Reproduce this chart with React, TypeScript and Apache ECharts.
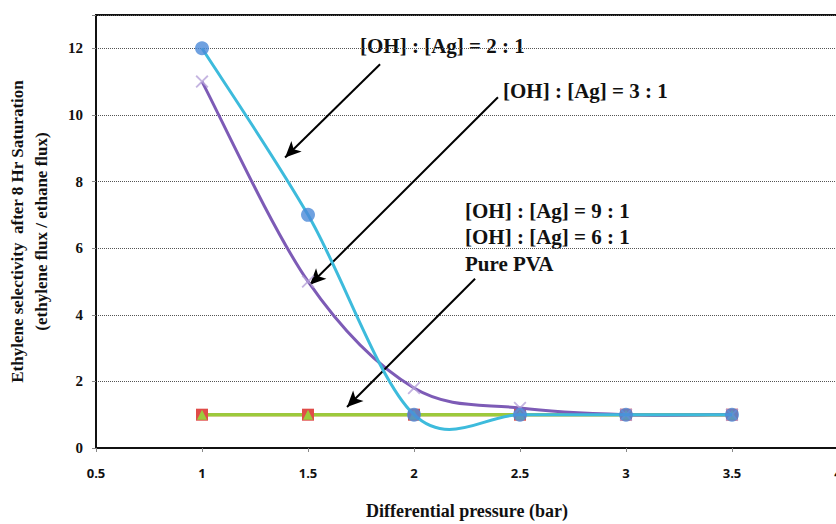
import React, { useEffect, useRef } from "react";
import * as echarts from "echarts";

const pressure = [1, 1.5, 2, 2.5, 3, 3.5];
const ratio2to1 = [12, 7, 1, 1, 1, 1];
const ratio3to1 = [11, 5, 1.8, 1.2, 1, 1];
const ratio9to1 = [1, 1, 1, 1, 1, 1];
const ratio6to1 = [1, 1, 1, 1, 1, 1];
const purePVA = [1, 1, 1, 1, 1, 1];

const xTicks = { min: 0.5, max: 4, interval: 0.5 };
const yTicks = { min: 0, max: 13, interval: 2 };

// annotation arrows in data coordinates: [fromX, fromY, toX, toY]
const arrows = [
  [1.84, 11.52, 1.392, 8.72],
  [2.396, 10.53, 1.509, 4.9],
  [2.288, 5.08, 1.684, 1.23],
];

const labels = [
  { text: "[OH] : [Ag] = 2 : 1", x: 360, y: 46 },
  { text: "[OH] : [Ag] = 3 : 1", x: 503, y: 91 },
  { text: "[OH] : [Ag] = 9 : 1", x: 465, y: 211 },
  { text: "[OH] : [Ag] = 6 : 1", x: 465, y: 237 },
  { text: "Pure PVA", x: 465, y: 264 },
];

const serif = "'Liberation Serif', 'Times New Roman', serif";
const sans = "'Open Sans', 'Noto Sans', sans-serif";
const crossPath =
  "path://M0,1 L1,0 L5,4 L9,0 L10,1 L6,5 L10,9 L9,10 L5,6 L1,10 L0,9 L4,5 Z";

const pairs = (ys: number[]) => pressure.map((x, i) => [x, ys[i]]);

// Catmull-Rom style smoothed line (spreadsheet-like smoothing) through the axis scales
const smoothSeries = (name: string, ys: number[], color: string, z: number) => ({
  name,
  type: "custom",
  data: pairs(ys),
  encode: { x: 0, y: 1 },
  clip: true,
  silent: true,
  z,
  renderItem: (params: any, api: any) => {
    if (params.dataIndex !== 0) return null;
    const pts = pressure.map((x, i) => api.coord([x, ys[i]]));
    const n = pts.length;
    const p = (i: number) => pts[Math.max(0, Math.min(n - 1, i))];
    let d = `M${pts[0][0]},${pts[0][1]}`;
    for (let i = 0; i < n - 1; i++) {
      const p0 = p(i - 1), p1 = p(i), p2 = p(i + 1), p3 = p(i + 2);
      const c1x = p1[0] + (p2[0] - p0[0]) / 6;
      const c1y = p1[1] + (p2[1] - p0[1]) / 6;
      const c2x = p2[0] - (p3[0] - p1[0]) / 6;
      const c2y = p2[1] - (p3[1] - p1[1]) / 6;
      d += ` C${c1x},${c1y} ${c2x},${c2y} ${p2[0]},${p2[1]}`;
    }
    return {
      type: "path",
      shape: { pathData: d },
      style: { stroke: color, lineWidth: 3, fill: "none" },
    };
  },
});

export default function App() {
  const ref = useRef<HTMLDivElement>(null);
  useEffect(() => {
    if (!ref.current) return;
    const chart = echarts.init(ref.current, undefined, { renderer: "svg" });
    chart.setOption({
      animation: false,
      backgroundColor: "#fff",
      textStyle: { fontFamily: serif },
      grid: {
        left: 96,
        right: -2,
        top: 15,
        bottom: 76,
        show: true,
        borderColor: "#111",
        borderWidth: 2,
        outerBoundsMode: "none",
        containLabel: false,
      },
      xAxis: {
        type: "value",
        min: xTicks.min,
        max: xTicks.max,
        interval: xTicks.interval,
        name: "Differential pressure (bar)",
        nameLocation: "middle",
        nameGap: 54,
        nameTextStyle: { fontFamily: serif, fontWeight: "bold", fontSize: 18, color: "#111" },
        axisLine: { show: true, lineStyle: { color: "#111", width: 2 } },
        axisTick: { show: true, length: 4, lineStyle: { color: "#888" } },
        axisLabel: {
          fontFamily: sans,
          fontWeight: "bold",
          fontSize: 13,
          color: "#111",
          margin: 18,
          showMaxLabel: true,
        },
        splitLine: { show: false },
      },
      yAxis: {
        type: "value",
        min: yTicks.min,
        max: yTicks.max,
        interval: yTicks.interval,
        name: "Ethylene selectivity  after 8 Hr Saturation\n(ethylene flux / ethane flux)",
        nameLocation: "middle",
        nameGap: 43,
        nameTextStyle: {
          fontFamily: serif,
          fontWeight: "bold",
          fontSize: 17,
          color: "#111",
          lineHeight: 24,
        },
        axisLine: { show: true, lineStyle: { color: "#111", width: 2 } },
        axisTick: { show: true, length: 4, lineStyle: { color: "#888" } },
        axisLabel: {
          fontFamily: serif,
          fontWeight: "bold",
          fontSize: 15,
          color: "#111",
          margin: 13,
          formatter: (v: number) => (v % 2 === 0 ? String(v) : ""),
        },
        splitLine: { show: true, lineStyle: { color: "#555", type: [1, 1], width: 1 } },
      },
      series: [
        {
          name: "Pure PVA",
          type: "line",
          z: 2,
          data: pairs(purePVA),
          symbol: "rect",
          symbolSize: 12,
          itemStyle: { color: "#E04C48" },
          lineStyle: { color: "#E04C48", width: 3 },
        },
        {
          name: "[OH] : [Ag] = 6 : 1",
          type: "line",
          z: 2,
          data: pairs(ratio6to1),
          symbol: "rect",
          symbolSize: 10,
          itemStyle: { color: "#E04C48" },
          lineStyle: { color: "#9BCB3B", width: 3 },
        },
        {
          name: "[OH] : [Ag] = 9 : 1",
          type: "line",
          z: 2,
          data: pairs(ratio9to1),
          symbol: "triangle",
          symbolSize: 10,
          itemStyle: { color: "#9BCB3B" },
          lineStyle: { color: "#9BCB3B", width: 3 },
        },
        smoothSeries("[OH] : [Ag] = 3 : 1", ratio3to1, "#7D5BB6", 4),
        {
          name: "[OH] : [Ag] = 3 : 1 markers",
          type: "scatter",
          z: 5,
          data: pairs(ratio3to1),
          symbol: crossPath,
          symbolSize: 13,
          itemStyle: { color: "#B7A3D9" },
          markLine: {
            silent: true,
            symbol: ["none", "arrow"],
            symbolSize: [11, 16],
            label: { show: false },
            lineStyle: { color: "#000", width: 2, type: "solid" },
            data: arrows.map((a) => [{ coord: [a[0], a[1]] }, { coord: [a[2], a[3]] }]),
          },
        },
        smoothSeries("[OH] : [Ag] = 2 : 1", ratio2to1, "#3DBBDC", 6),
        {
          name: "[OH] : [Ag] = 2 : 1 markers",
          type: "scatter",
          z: 7,
          data: pairs(ratio2to1),
          symbol: "circle",
          symbolSize: 14,
          itemStyle: { color: "#4B89D8" },
        },
      ],
      graphic: labels.map((l) => ({
        type: "text",
        left: l.x,
        top: l.y - 11,
        style: {
          text: l.text,
          fontFamily: serif,
          fontWeight: "bold",
          fontSize: 21,
          fill: "#111",
        },
      })),
    });
    return () => chart.dispose();
  }, []);
  return (
    <div
      ref={ref}
      style={{ position: "absolute", left: 0, top: 0, width: 836, height: 524, background: "#fff" }}
    />
  );
}
